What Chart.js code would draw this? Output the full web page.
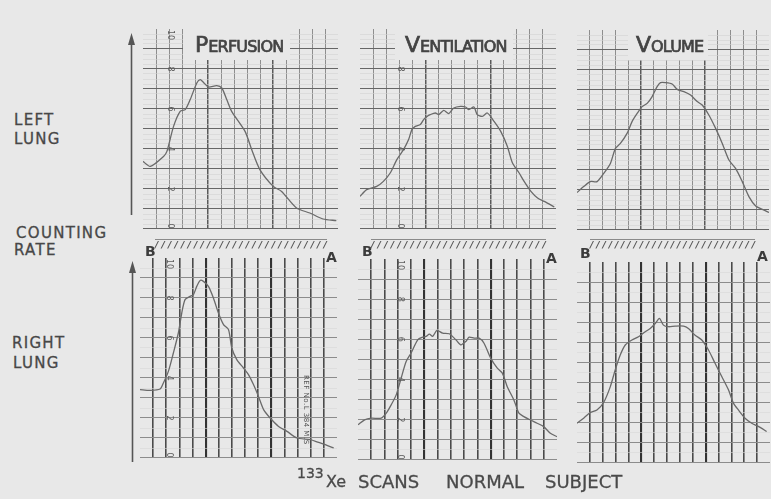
<!DOCTYPE html>
<html>
<head>
<meta charset="utf-8">
<script src="https://cdn.jsdelivr.net/npm/chart.js@4.4.1/dist/chart.umd.min.js"></script>
<style>
  html,body{margin:0;padding:0;}
  body{width:771px;height:499px;background:#e8e8e8;position:relative;overflow:hidden;font-family:"DejaVu Sans",sans-serif;color:#474747;}
  canvas{position:absolute;}
  .lbl{position:absolute;font-size:15px;line-height:1;letter-spacing:1.3px;white-space:nowrap;-webkit-text-stroke:0.3px #474747;}
  .tbox{position:absolute;background:#e8e8e8;}
  .ttl{position:absolute;font-size:22px;line-height:1;white-space:nowrap;color:#444;-webkit-text-stroke:0.7px #444;}
  .ttl span{font-size:16px;letter-spacing:-0.8px;}
  .ab{position:absolute;font-size:14px;font-weight:bold;line-height:1;color:#3c3c3c;}
  .strip{position:absolute;height:10px;display:flex;justify-content:space-between;font-size:9px;font-weight:bold;font-style:italic;line-height:10px;color:#555;border-top:1px solid #8a8a8a;}
  .foot{position:absolute;font-size:18px;line-height:1;white-space:nowrap;color:#4a4a4a;-webkit-text-stroke:0.3px #4a4a4a;}
</style>
</head>
<body>
<!-- data -->
<script>
// Scan position along the lung (B -> A), in chart-paper divisions (0..15)
// Counting rate, in chart-paper units (0..10)
const yTickValues = [0, 2, 4, 6, 8, 10];

const perfLeftX  = [0,0.56,1.58,1.84,2.35,2.86,3.25,3.63,4.14,4.4,4.65,5.03,5.67,6.06,6.44,6.82,7.85,8.36,8.99,10.02,10.66,11.81,12.83,13.85,14.87];
const perfLeftY  = [3.38,3.13,3.63,3.88,5.13,5.88,5.97,6.47,7.3,7.47,7.33,7.1,7.17,7.05,6.47,5.88,4.88,3.97,2.97,2.13,1.88,1.05,0.8,0.5,0.42];

const ventLeftX  = [0,0.51,1.28,1.79,2.31,2.82,3.33,3.72,3.97,4.23,4.62,4.87,5.13,5.38,5.77,6.03,6.41,6.79,7.18,7.69,8.08,8.33,8.72,8.97,9.36,9.74,10.26,10.77,11.28,11.67,12.18,12.56,13.08,13.59,14.1,14.87];
const ventLeftY  = [1.63,1.97,2.13,2.38,2.8,3.47,3.97,4.47,4.97,5.13,5.22,5.47,5.63,5.72,5.8,5.72,5.93,5.77,6.05,6.13,6.1,5.97,6.1,5.72,5.63,5.8,5.38,4.88,4.13,3.3,2.8,2.38,1.88,1.55,1.38,1.1];

const volLeftX   = [0,0.52,1.04,1.57,2.09,2.61,3.0,3.39,3.91,4.3,4.7,5.09,5.48,5.87,6.26,6.52,6.91,7.43,7.83,8.35,8.87,9.39,9.78,10.3,10.83,11.35,11.87,12.39,12.91,13.43,13.96,14.48,15.0];
const volLeftY   = [1.87,2.17,2.42,2.42,2.83,3.33,4.08,4.33,4.83,5.42,5.83,6.17,6.33,6.67,7.17,7.37,7.37,7.3,7.03,6.92,6.75,6.42,6.25,5.75,5.08,4.33,3.5,3.08,2.42,1.67,1.2,1.03,0.88];

const perfRightX = [0,0.76,1.53,1.78,2.16,2.54,2.92,3.18,3.43,3.81,4.07,4.32,4.58,4.83,5.21,5.59,5.97,6.36,6.74,6.99,7.37,7.88,8.26,8.64,9.02,9.41,9.91,10.55,11.19,11.95,12.97,13.6,14.11,14.75];
const perfRightY = [3.42,3.38,3.45,3.75,4.33,5.25,6.25,7.25,7.92,8.08,8.17,8.58,8.88,8.83,8.58,8.0,7.25,6.67,6.42,5.5,4.92,4.5,4.17,3.67,3.08,2.42,2.0,1.58,1.33,1.0,0.92,0.78,0.67,0.5];

const ventRightX = [0,0.5,1,1.75,2.13,2.5,2.88,3.25,3.63,4.0,4.5,4.88,5.13,5.38,5.63,5.95,6.38,6.88,7.38,7.75,8.13,8.38,8.75,9.13,9.5,10.0,10.5,10.88,11.25,11.75,12.13,12.5,13.0,13.5,14.0,14.5,15.0];
const ventRightY = [1.75,2.0,2.08,2.08,2.33,2.74,3.24,4.07,4.9,5.32,5.98,6.11,6.15,6.26,6.15,6.45,6.31,6.28,5.98,5.73,5.9,6.11,6.06,6.06,5.81,5.07,4.57,4.32,3.65,2.99,2.33,2.16,1.99,1.83,1.66,1.33,1.16];

const volRightX  = [0,0.52,1.03,1.55,2.07,2.59,2.97,3.36,3.75,4.27,4.78,5.3,5.69,6.08,6.41,6.72,7.11,7.63,8.28,8.66,9.18,9.7,10.22,10.73,11.25,11.77,12.16,12.54,13.06,13.58,14.09,14.74];
const volRightY  = [1.98,2.23,2.51,2.64,3.01,3.8,4.63,5.37,5.87,6.12,6.28,6.53,6.69,6.94,7.19,6.86,6.78,6.81,6.81,6.69,6.36,6.12,5.62,4.96,4.3,3.64,2.98,2.64,2.23,1.98,1.82,1.57];
</script>

<canvas id="tp" width="195" height="200" style="left:143px;top:29px"></canvas>
<canvas id="tv" width="196" height="200" style="left:360px;top:29px"></canvas>
<canvas id="tw" width="192" height="200" style="left:577px;top:30px"></canvas>
<canvas id="bp" width="197" height="200" style="left:140px;top:258px"></canvas>
<canvas id="bv" width="199" height="201" style="left:358px;top:259px"></canvas>
<canvas id="bw" width="193" height="201" style="left:577px;top:262px"></canvas>

<!-- title boxes -->
<div class="tbox" style="left:183px;top:22px;width:107px;height:38px"></div>
<div class="ttl" style="left:195px;top:34px">P<span>ERFUSION</span></div>
<div class="tbox" style="left:395px;top:22px;width:118px;height:38px"></div>
<div class="ttl" style="left:405px;top:34px">V<span>ENTILATION</span></div>
<div class="tbox" style="left:628px;top:22px;width:80px;height:38px"></div>
<div class="ttl" style="left:636px;top:34px">V<span>OLUME</span></div>

<!-- left labels -->
<div class="lbl" style="left:14px;top:113px">LEFT</div>
<div class="lbl" style="left:14px;top:132px">LUNG</div>
<div class="lbl" style="left:16px;top:226px">COUNTING</div>
<div class="lbl" style="left:14px;top:243px">RATE</div>
<div class="lbl" style="left:12px;top:336px">RIGHT</div>
<div class="lbl" style="left:13px;top:356px">LUNG</div>

<svg style="position:absolute;left:0;top:0" width="771" height="499">
  <line x1="131.5" y1="42" x2="131.5" y2="215" stroke="#555" stroke-width="1.6"/>
  <polygon points="131.5,33 128,45 135,45" fill="#555"/>
  <line x1="132.5" y1="270" x2="132.5" y2="462" stroke="#555" stroke-width="1.6"/>
  <polygon points="132.5,261 129,273 136,273" fill="#555"/>
</svg>

<!-- B / A strips -->
<div class="ab" style="left:145px;top:244px">B</div>
<div class="ab" style="left:326px;top:250px">A</div>
<div class="strip" id="s1" style="left:155px;top:239px;width:172px"></div>
<div class="ab" style="left:362px;top:244px">B</div>
<div class="ab" style="left:546px;top:251px">A</div>
<div class="strip" id="s2" style="left:371px;top:239px;width:175px"></div>
<div class="ab" style="left:580px;top:246px">B</div>
<div class="ab" style="left:757px;top:249px">A</div>
<div class="strip" id="s3" style="left:590px;top:239px;width:165px"></div>

<div style="position:absolute;left:302px;top:375px;writing-mode:vertical-rl;font-size:7px;color:#555;letter-spacing:0.5px">REF No.L 384 M.S</div>

<!-- footer -->
<div class="foot" style="left:297px;top:466px;font-size:14px">133</div>
<div class="foot" style="left:326px;top:474px;font-size:16px">Xe</div>
<div class="foot" style="left:358px;top:473px">SCANS</div>
<div class="foot" style="left:446px;top:473px">NORMAL</div>
<div class="foot" style="left:545px;top:473px">SUBJECT</div>

<script>
['s1','s2','s3'].forEach(id => {
  const el = document.getElementById(id);
  for (let i = 0; i < 27; i++) { const s = document.createElement('span'); s.textContent = '/'; el.appendChild(s); }
});

const paperNumerals = {
  id: 'paperNumerals',
  afterDatasetsDraw(chart, args, opts) {
    if (opts.at == null) return;
    const {ctx, chartArea} = chart;
    const xs = chart.scales.x, ys = chart.scales.y;
    ctx.save();
    ctx.fillStyle = '#5c5c5c';
    ctx.font = '8px "DejaVu Sans"';
    ctx.textAlign = 'center';
    ctx.textBaseline = 'middle';
    yTickValues.forEach(v => {
      let py = ys.getPixelForValue(v);
      py = Math.min(Math.max(py, chartArea.top + 6), chartArea.bottom - 3);
      ctx.save();
      ctx.translate(xs.getPixelForValue(opts.at), py);
      ctx.rotate(Math.PI / 2);
      ctx.fillText(String(v), 0, 0);
      ctx.restore();
    });
    ctx.restore();
  }
};

function makeChart(id, xs, ys, top, numeralsAt) {
  const data = xs.map((x, i) => ({x: x, y: ys[i]}));
  const vMajor = top ? '#8e8e8e' : '#4a4a4a';
  const vHeavy = top ? '#5a5a5a' : '#333333';
  const vW = top ? 1 : 1.6;
  const hMajor = top ? '#666666' : '#8c8c8c';
  const hMinor = top ? '#d2d2d2' : '#d6d6d6';
  new Chart(document.getElementById(id), {
    type: 'line',
    data: { datasets: [{ data: data, borderColor: '#6a6a6a', borderWidth: 1.3, pointRadius: 0, tension: 0.25, fill: false }] },
    plugins: [paperNumerals],
    options: {
      responsive: false, animation: false, maintainAspectRatio: false,
      layout: { padding: 0 },
      events: [],
      plugins: { legend: {display: false}, tooltip: {enabled: false}, paperNumerals: { at: numeralsAt } },
      scales: {
        x: {
          type: 'linear', min: 0, max: 15,
          ticks: { display: false, stepSize: 1, autoSkip: false, maxTicksLimit: 100 },
          grid: {
            drawTicks: false,
            color: c => (c.tick.value === 0 || c.tick.value === 15) ? 'rgba(0,0,0,0)' : (c.tick.value % 5 === 0 ? vHeavy : vMajor),
            lineWidth: c => c.tick.value % 5 === 0 ? vW + 0.5 : vW
          },
          border: { display: false }
        },
        y: {
          type: 'linear', min: 0, max: 10,
          ticks: { display: false, stepSize: top ? 0.25 : 0.5, autoSkip: false, maxTicksLimit: 100 },
          grid: {
            drawTicks: false,
            color: c => Number.isInteger(Math.round(c.tick.value * 1000) / 1000) ? hMajor : hMinor,
            lineWidth: c => Number.isInteger(Math.round(c.tick.value * 1000) / 1000) ? 1.1 : 0.6
          },
          border: { display: false }
        }
      }
    }
  });
}

makeChart('tp', perfLeftX, perfLeftY, true, 2.05);
makeChart('tv', ventLeftX, ventLeftY, true, 3.05);
makeChart('tw', volLeftX, volLeftY, true, null);
makeChart('bp', perfRightX, perfRightY, false, 2.2);
makeChart('bv', ventRightX, ventRightY, false, 3.15);
makeChart('bw', volRightX, volRightY, false, null);
</script>
</body>
</html>
